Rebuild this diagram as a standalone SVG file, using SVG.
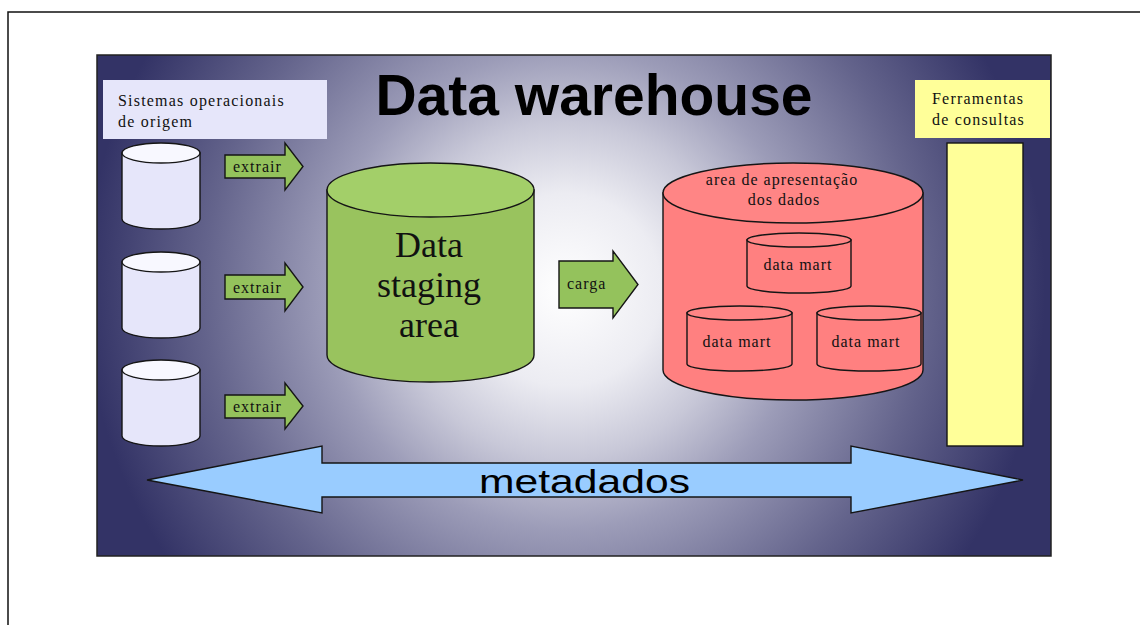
<svg xmlns="http://www.w3.org/2000/svg" width="1140" height="625" viewBox="0 0 1140 625">
  <defs>
    <radialGradient id="panelGrad" gradientUnits="userSpaceOnUse" cx="565" cy="290" r="480">
      <stop offset="0" stop-color="#ffffff"/>
      <stop offset="0.2" stop-color="#ececf2"/>
      <stop offset="0.35" stop-color="#c8c8d8"/>
      <stop offset="0.5" stop-color="#9c9cb8"/>
      <stop offset="0.75" stop-color="#64648c"/>
      <stop offset="1" stop-color="#333366"/>
    </radialGradient>
  </defs>
  <style>
    .frame { fill: none; stroke: #111; stroke-width: 1.5; }
    .panel { fill: url(#panelGrad); stroke: #222; stroke-width: 1.5; }
    .line { stroke: #151515; stroke-width: 1.4; }
    .src-body { fill: #e6e6fa; }
    .src-top { fill: #f8f8ff; }
    .stage-body { fill: #99c35e; }
    .stage-top { fill: #a3cf69; }
    .pres-body { fill: #ff8080; }
    .pres-top { fill: #ff8585; }
    .mart-body { fill: #ff8080; }
    .mart-top { fill: #ff8585; }
    .step { fill: #94c25c; }
    .meta { fill: #99ccff; }
    .serif { font-family: "Liberation Serif", "Times New Roman", serif; fill: #111; }
    .small { font-size: 16px; letter-spacing: 1.2px; }
    .label { font-size: 16px; letter-spacing: 1px; }
    .big { font-size: 36px; text-anchor: middle; }
    .sans { font-family: "Liberation Sans", Arial, sans-serif; fill: #000; }
  </style>

  <!-- page frame -->
  <rect class="frame" x="8" y="12" width="1200" height="700"/>

  <!-- warehouse panel -->
  <rect class="panel" x="97" y="55" width="954" height="501"/>

  <text class="sans" x="594" y="115" font-size="57" font-weight="bold" text-anchor="middle">Data warehouse</text>

  <!-- source systems -->
  <g id="sistemas-origem">
    <rect x="103" y="80" width="224" height="59" fill="#e6e6fa"/>
    <text class="serif small" x="118" y="106">Sistemas operacionais</text>
    <text class="serif small" x="118" y="127">de origem</text>
  </g>

  <g id="origem-1">
    <path class="src-body line" d="M122,153 V219 A39,10 0 0 0 200,219 V153 Z"/>
    <ellipse class="src-top line" cx="161" cy="153" rx="39" ry="10"/>
  </g>
  <g id="origem-2">
    <path class="src-body line" d="M122,262 V328 A39,10 0 0 0 200,328 V262 Z"/>
    <ellipse class="src-top line" cx="161" cy="262" rx="39" ry="10"/>
  </g>
  <g id="origem-3">
    <path class="src-body line" d="M122,370 V436 A39,10 0 0 0 200,436 V370 Z"/>
    <ellipse class="src-top line" cx="161" cy="370" rx="39" ry="10"/>
  </g>

  <!-- staging area -->
  <g id="staging-area">
    <path class="stage-body line" d="M327,190 V355 A103.5,27 0 0 0 534,355 V190 Z"/>
    <ellipse class="stage-top line" cx="430.5" cy="190" rx="103.5" ry="27"/>
    <text class="serif big" x="429" y="257">Data</text>
    <text class="serif big" x="429" y="297">staging</text>
    <text class="serif big" x="429" y="337">area</text>
  </g>

  <!-- presentation area with data marts -->
  <g id="apresentacao">
    <path class="pres-body line" d="M663,193 V370 A130,30 0 0 0 923,370 V193 Z"/>
    <ellipse class="pres-top line" cx="793" cy="193" rx="130" ry="30"/>
    <text class="serif label" x="782" y="185" text-anchor="middle">area de apresentação</text>
    <text class="serif label" x="784" y="205" text-anchor="middle">dos dados</text>
  </g>

  <g id="data-mart-1">
    <path class="mart-body line" d="M747,240 V286 A52,7 0 0 0 851,286 V240 Z"/>
    <ellipse class="mart-top line" cx="799" cy="240" rx="52" ry="7"/>
    <text class="serif label" x="798" y="270" text-anchor="middle">data mart</text>
  </g>
  <g id="data-mart-2">
    <path class="mart-body line" d="M687,313 V364 A52.5,7 0 0 0 792,364 V313 Z"/>
    <ellipse class="mart-top line" cx="739.5" cy="313" rx="52.5" ry="7"/>
    <text class="serif label" x="737" y="347" text-anchor="middle">data mart</text>
  </g>
  <g id="data-mart-3">
    <path class="mart-body line" d="M817,313 V364 A52,7 0 0 0 921,364 V313 Z"/>
    <ellipse class="mart-top line" cx="869" cy="313" rx="52" ry="7"/>
    <text class="serif label" x="866" y="347" text-anchor="middle">data mart</text>
  </g>

  <!-- query tools -->
  <g id="ferramentas">
    <rect x="915" y="80" width="135" height="58" fill="#ffff99"/>
    <text class="serif small" x="932" y="104">Ferramentas</text>
    <text class="serif small" x="932" y="125">de consultas</text>
    <rect class="line" x="947" y="143" width="76" height="303" fill="#ffff99"/>
  </g>

  <!-- flow arrows -->
  <g id="connectors">
    <g id="extrair-1">
      <path class="step line" d="M225,155 H285 V143 L303,166.5 L285,190 V178 H225 Z"/>
      <text class="serif label" x="233" y="172">extrair</text>
    </g>
    <g id="extrair-2">
      <path class="step line" d="M225,275 H285 V263 L303,287 L285,311 V299 H225 Z"/>
      <text class="serif label" x="233" y="292.5">extrair</text>
    </g>
    <g id="extrair-3">
      <path class="step line" d="M225,395 H285 V383 L303,406 L285,429 V418 H225 Z"/>
      <text class="serif label" x="233" y="411.5">extrair</text>
    </g>
    <g id="carga">
      <path class="step line" d="M559,261 H613 V251 L638,284.5 L613,318 V308 H559 Z"/>
      <text class="serif label" x="567" y="289">carga</text>
    </g>
    <g id="metadados">
      <path class="meta line" d="M147,480 L322,446 V463 H851 V446 L1023,480 L851,513 V497 H322 V513 Z"/>
      <text class="sans" x="479" y="493" font-size="34" textLength="211" lengthAdjust="spacingAndGlyphs">metadados</text>
    </g>
  </g>
</svg>
